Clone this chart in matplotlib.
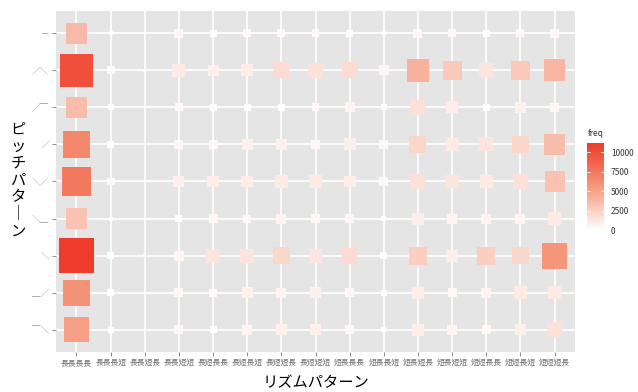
import numpy as np
import matplotlib
matplotlib.use('Agg')
import matplotlib.pyplot as plt
from matplotlib.colors import LinearSegmentedColormap, Normalize

plt.rcParams['font.family'] = ['Noto Sans CJK JP', 'DejaVu Sans']

rhythm = ['長長長長', '長長長短', '長長短長', '長長短短', '長短長長', '長短長短',
          '長短短長', '長短短短', '短長長長', '短長長短', '短長短長', '短長短短',
          '短短長長', '短短長短', '短短短長']
pitch = ['－', '／＼', '／￣', '／', '＼／', '＼＿', '＼', '＿／', '￣＼']

# counts per pitch pattern, one value per rhythm pattern (None = no data)
freq_flat      = [3700, 25, None, 450, 215, 320, 320, 320, 215, 24, 450, 320, 215, 320, 450]
freq_rise_fall = [10000, 320, 5, 1170, 765, 955, 1930, 1660, 1930, 600, 4200, 2900, 1400, 2900, 4000]
freq_rise_flat = [3600, 130, None, 320, 215, 215, 215, 320, 600, 130, 1660, 955, 215, 765, 450]
freq_rise      = [6600, 215, None, 450, 450, 765, 765, 450, 955, 450, 2230, 1170, 1400, 2230, 3600]
freq_fall_rise = [7400, 320, None, 765, 955, 955, 1170, 1170, 955, 450, 1660, 1400, 1170, 1660, 3250]
freq_fall_flat = [3300, 25, None, 215, 450, 320, 600, 450, 450, 66, 955, 600, 600, 600, 1170]
freq_fall      = [11200, 215, 5, 600, 1400, 1400, 2230, 1400, 1930, 215, 2600, 955, 2600, 2230, 5800]
freq_flat_rise = [6000, 215, None, 450, 320, 765, 600, 765, 450, 130, 955, 450, 600, 1170, 1170]
freq_flat_fall = [5200, 130, None, 450, 215, 600, 765, 765, 450, 66, 955, 600, 450, 765, 1660]

freq = [freq_flat, freq_rise_fall, freq_rise_flat, freq_rise, freq_fall_rise,
        freq_fall_flat, freq_fall, freq_flat_rise, freq_flat_fall]

xs, ys, vals = [], [], []
for j, row in enumerate(freq):
    for i, v in enumerate(row):
        if v is not None:
            xs.append(i)
            ys.append(j)
            vals.append(v)
vals = np.array(vals, dtype=float)
vmax = vals.max()

cmap = LinearSegmentedColormap.from_list(
    'freq', [(0, '#FFFFFF'), (0.33, '#F8BAA8'), (0.5, '#F5997F'),
             (0.66, '#F27A5E'), (1.0, '#EF3B2C')])
norm = Normalize(0, vmax)

# side of each square in px grows with sqrt(freq)
side_px = 2.5 + 32.5 * np.sqrt(vals / vmax)
sizes = (side_px * 0.72) ** 2

fig = plt.figure(figsize=(6.38, 3.92), dpi=100)
ax = fig.add_axes([56 / 638, 1 - 352 / 392, 519 / 638, 341 / 392])
ax.set_facecolor('#E5E5E5')
for s in ax.spines.values():
    s.set_visible(False)

ax.set_xticks(range(len(rhythm)))
ax.set_yticks(range(len(pitch)))
ax.grid(True, color='white', linewidth=1.2)
ax.set_axisbelow(True)

ax.scatter(xs, ys, s=sizes, c=vals, cmap=cmap, norm=norm, marker='s',
           linewidths=0, zorder=3)

ax.set_xlim(-0.6, len(rhythm) - 0.4)
ax.set_ylim(len(pitch) - 0.4, -0.6)

ax.set_xticklabels(rhythm, fontsize=5.6, color='#6E6E6E')
ax.set_yticklabels(pitch, fontsize=6.2, color='#9A9A9A')
ax.tick_params(axis='both', length=3, width=0.7, color='#8C8C8C', pad=2)

ax.set_xlabel('リズムパターン', fontsize=11, labelpad=5)
fig.text(18 / 638, 1 - 180 / 392, '\n'.join('ピッチパタ｜ン'),
         fontsize=11, ha='center', va='center', linespacing=1.0)

# colour bar legend
cax = fig.add_axes([587 / 638, 1 - 230 / 392, 17 / 638, 87 / 392])
grad = np.linspace(0, vmax, 256).reshape(-1, 1)
cax.imshow(grad, aspect='auto', cmap=cmap, norm=norm, origin='lower',
           extent=[0, 1, 0, vmax])
cax.set_xticks([])
cax.set_yticks([0, 2500, 5000, 7500, 10000])
cax.yaxis.tick_right()
cax.tick_params(axis='y', length=0, labelsize=6, labelcolor='#333333', pad=5)
for t in [2500, 5000, 7500, 10000]:
    cax.plot([0, 0.2], [t, t], color='white', lw=0.6)
    cax.plot([0.8, 1], [t, t], color='white', lw=0.6)
cax.set_xlim(0, 1)
cax.set_ylim(0, vmax)
for s in cax.spines.values():
    s.set_visible(False)
fig.text(588 / 638, 1 - 133 / 392, 'freq', fontsize=6, color='#333333',
         ha='left', va='center')

fig.savefig('out.png', dpi=100, facecolor='white')
